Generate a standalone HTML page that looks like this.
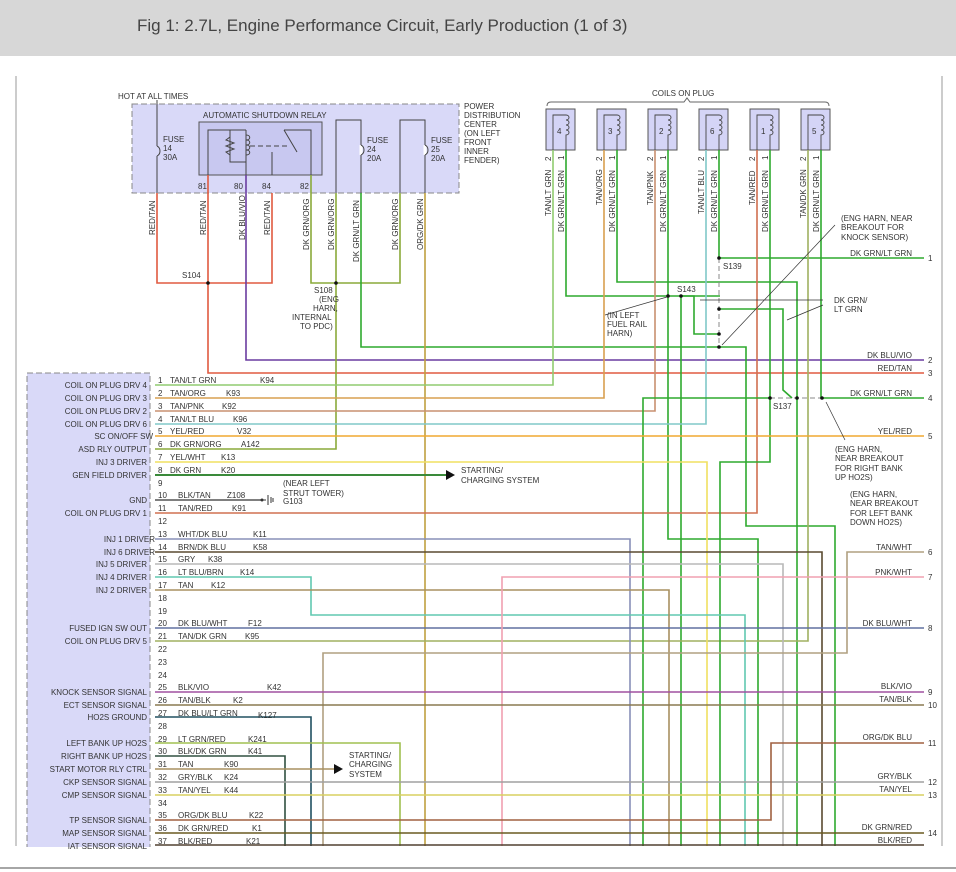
<!DOCTYPE html>
<html><head><meta charset="utf-8"><style>
html,body{margin:0;padding:0;background:#fff;width:956px;height:872px;overflow:hidden}
svg{display:block}
text{font-family:"Liberation Sans",sans-serif;fill:#333}
.s{font-size:8px}
</style></head><body>
<svg width="956" height="872" viewBox="0 0 956 872" xmlns="http://www.w3.org/2000/svg">
<rect x="0" y="0" width="956" height="56" fill="#d7d7d7"/>
<text x="137" y="31" style="font-size:17px;fill:#444">Fig 1: 2.7L, Engine Performance Circuit, Early Production (1 of 3)</text>
<line x1="16" y1="76" x2="16" y2="846" stroke="#999" stroke-width="1"/>
<line x1="942" y1="76" x2="942" y2="846" stroke="#999" stroke-width="1"/>
<line x1="0" y1="868" x2="956" y2="868" stroke="#999" stroke-width="1.5"/>

<!-- PDC -->
<rect x="132" y="104" width="327" height="89" fill="#d9d9f8" stroke="#888" stroke-dasharray="6,3"/>
<rect x="199" y="122" width="123" height="53" fill="#c8c8f0" stroke="#555"/>
<text x="118" y="99" class="s">HOT AT ALL TIMES</text>
<text x="203" y="118" class="s">AUTOMATIC SHUTDOWN RELAY</text>
<text x="464" y="109" class="s">POWER</text><text x="464" y="118" class="s">DISTRIBUTION</text><text x="464" y="127" class="s">CENTER</text><text x="464" y="136" class="s">(ON LEFT</text><text x="464" y="145" class="s">FRONT</text><text x="464" y="154" class="s">INNER</text><text x="464" y="163" class="s">FENDER)</text>
<text x="163" y="142" class="s">FUSE</text><text x="163" y="151" class="s">14</text><text x="163" y="160" class="s">30A</text>
<text x="367" y="143" class="s">FUSE</text><text x="367" y="152" class="s">24</text><text x="367" y="161" class="s">20A</text>
<text x="431" y="143" class="s">FUSE</text><text x="431" y="152" class="s">25</text><text x="431" y="161" class="s">20A</text>
<text x="198" y="189" class="s">81</text><text x="234" y="189" class="s">80</text><text x="262" y="189" class="s">84</text><text x="300" y="189" class="s">82</text>
<g fill="none" stroke="#444" stroke-width="1">
<path d="M157 100V146M157 156V193"/><path d="M157 146c4 2 4 8 0 10"/>
<path d="M208 175V130H230M230 130V162H246M246 130V175M230 130H246"/>
<path d="M230 137l-4 3 8 3-8 3 8 3-8 3 4 3"/>
<path d="M246 135c5 0 5 5 0 5c5 0 5 5 0 5c5 0 5 5 0 5c5 0 5 5 0 5"/>
<path d="M250 146H290" stroke-dasharray="5,3"/>
<path d="M272 175V152M311 175V130H284M284 130L297 152"/>
<path d="M336 193V120H361V193M400 193V120H425V193"/>
</g>
<g fill="none" stroke="#fff" stroke-width="3"><path d="M361 145V155M425 145V155"/></g>
<g fill="none" stroke="#444" stroke-width="1"><path d="M361 145c4 2 4 8 0 10M425 145c4 2 4 8 0 10"/></g>

<!-- coils -->
<text x="652" y="96" class="s">COILS ON PLUG</text>
<path d="M547 106q0-4 4-4H684l3-4 3 4H825q4 0 4 4" fill="none" stroke="#666"/>
<g font-size="8">
<g id="c"></g>
</g>
<g stroke="#555" fill="#d4d4f6">
<rect x="546" y="109" width="29" height="41"/><rect x="597" y="109" width="29" height="41"/><rect x="648" y="109" width="29" height="41"/><rect x="699" y="109" width="29" height="41"/><rect x="750" y="109" width="29" height="41"/><rect x="801" y="109" width="29" height="41"/>
</g>
<g fill="none" stroke="#444" stroke-width="0.9">
<path d="M553 150V115H566M566 115c4 0 4 5 0 5c4 0 4 5 0 5c4 0 4 5 0 5c4 0 4 5 0 5V150"/>
<path d="M604 150V115H617M617 115c4 0 4 5 0 5c4 0 4 5 0 5c4 0 4 5 0 5c4 0 4 5 0 5V150"/>
<path d="M655 150V115H668M668 115c4 0 4 5 0 5c4 0 4 5 0 5c4 0 4 5 0 5c4 0 4 5 0 5V150"/>
<path d="M706 150V115H719M719 115c4 0 4 5 0 5c4 0 4 5 0 5c4 0 4 5 0 5c4 0 4 5 0 5V150"/>
<path d="M757 150V115H770M770 115c4 0 4 5 0 5c4 0 4 5 0 5c4 0 4 5 0 5c4 0 4 5 0 5V150"/>
<path d="M808 150V115H821M821 115c4 0 4 5 0 5c4 0 4 5 0 5c4 0 4 5 0 5c4 0 4 5 0 5V150"/>
</g>
<g class="s"><text x="557" y="134" class="s">4</text><text x="608" y="134" class="s">3</text><text x="659" y="134" class="s">2</text><text x="710" y="134" class="s">6</text><text x="761" y="134" class="s">1</text><text x="812" y="134" class="s">5</text></g>

<!-- vertical rotated labels -->
<g class="s">
<text transform="translate(155,235) rotate(-90)" class="s">RED/TAN</text>
<text transform="translate(206,235) rotate(-90)" class="s">RED/TAN</text>
<text transform="translate(245,240) rotate(-90)" class="s">DK BLU/VIO</text>
<text transform="translate(270,235) rotate(-90)" class="s">RED/TAN</text>
<text transform="translate(309,250) rotate(-90)" class="s">DK GRN/ORG</text>
<text transform="translate(334,250) rotate(-90)" class="s">DK GRN/ORG</text>
<text transform="translate(359,262) rotate(-90)" class="s">DK GRN/LT GRN</text>
<text transform="translate(398,250) rotate(-90)" class="s">DK GRN/ORG</text>
<text transform="translate(423,250) rotate(-90)" class="s">ORG/DK GRN</text>
</g>
<g class="s">
<text transform="translate(551,216) rotate(-90)" class="s">TAN/LT GRN</text><text transform="translate(564,232) rotate(-90)" class="s">DK GRN/LT GRN</text>
<text transform="translate(602,205) rotate(-90)" class="s">TAN/ORG</text><text transform="translate(615,232) rotate(-90)" class="s">DK GRN/LT GRN</text>
<text transform="translate(653,205) rotate(-90)" class="s">TAN/PNK</text><text transform="translate(666,232) rotate(-90)" class="s">DK GRN/LT GRN</text>
<text transform="translate(704,214) rotate(-90)" class="s">TAN/LT BLU</text><text transform="translate(717,232) rotate(-90)" class="s">DK GRN/LT GRN</text>
<text transform="translate(755,205) rotate(-90)" class="s">TAN/RED</text><text transform="translate(768,232) rotate(-90)" class="s">DK GRN/LT GRN</text>
<text transform="translate(806,218) rotate(-90)" class="s">TAN/DK GRN</text><text transform="translate(819,232) rotate(-90)" class="s">DK GRN/LT GRN</text>
<text transform="translate(551,161) rotate(-90)" class="s">2</text><text transform="translate(564,160) rotate(-90)" class="s">1</text>
<text transform="translate(602,161) rotate(-90)" class="s">2</text><text transform="translate(615,160) rotate(-90)" class="s">1</text>
<text transform="translate(653,161) rotate(-90)" class="s">2</text><text transform="translate(666,160) rotate(-90)" class="s">1</text>
<text transform="translate(704,161) rotate(-90)" class="s">2</text><text transform="translate(717,160) rotate(-90)" class="s">1</text>
<text transform="translate(755,161) rotate(-90)" class="s">2</text><text transform="translate(768,160) rotate(-90)" class="s">1</text>
<text transform="translate(806,161) rotate(-90)" class="s">2</text><text transform="translate(819,160) rotate(-90)" class="s">1</text>
</g>

<!-- ECM connector -->
<rect x="27" y="373" width="123" height="480" fill="#d9d9f8" stroke="#888" stroke-dasharray="6,3"/>

<!-- wires -->
<g fill="none" stroke-width="1.6">
<path d="M157 193V283H272V193" stroke="#e05a40"/>
<path d="M208 175V373H924" stroke="#e05a40"/>
<path d="M246 175V360H924" stroke="#6a3ca0"/>
<path d="M311 175V283H400V193" stroke="#8aaa3a"/>
<path d="M336 193V449H155" stroke="#8aaa3a"/>
<path d="M361 193V347H720" stroke="#2eaa2e"/>
<path d="M425 193V846" stroke="#c0a040"/>
<!-- coil wires -->
<path d="M553 150V385H155" stroke="#90cc70"/>
<path d="M566 150V296H720" stroke="#2eaa2e"/>
<path d="M604 150V398H155" stroke="#d8a050"/>
<path d="M617 150V282H797V846" stroke="#2eaa2e"/>
<path d="M655 150V411H155" stroke="#c89070"/>
<path d="M668 150V539H758V846" stroke="#2eaa2e"/>
<path d="M681 296V846" stroke="#2eaa2e"/>
<path d="M681 296H694V334H719" stroke="#2eaa2e"/>
<path d="M706 150V424H155" stroke="#80c8c8"/>
<path d="M719 150V258H924" stroke="#2eaa2e"/>
<path d="M719 258V347" stroke="#888" stroke-dasharray="5,3" stroke-width="1"/>
<path d="M719 309H783V390L792 398" stroke="#2eaa2e"/>
<path d="M719 347H746V526H835V846" stroke="#2eaa2e"/>
<path d="M757 150V513H155" stroke="#d07050"/>
<path d="M770 150V398" stroke="#2eaa2e"/>
<path d="M808 150V641H155" stroke="#a0b060"/>
<path d="M821 150V398H924" stroke="#2eaa2e"/>
<path d="M770 398H643V846" stroke="#2eaa2e"/>
<path d="M770 398V462H720V846" stroke="#2eaa2e"/>
<path d="M770 398H822" stroke="#888" stroke-dasharray="5,3" stroke-width="1"/>
<!-- ECM rows -->
<path d="M155 436H924" stroke="#f0a830"/>
<path d="M155 462H707V846" stroke="#f0e060"/>
<path d="M155 475H446" stroke="#3a8a3a" stroke-width="2"/>
<path d="M155 500H262" stroke="#555"/>
<path d="M155 539H630V846" stroke="#8890b8"/>
<path d="M155 552H822V846" stroke="#5a4a30"/>
<path d="M155 564H783V846" stroke="#b8b8b8"/>
<path d="M155 577H311V615H745V846" stroke="#60c8b0"/>
<path d="M155 590H669V846" stroke="#a89060"/>
<path d="M155 628H924" stroke="#6070a0"/>
<path d="M924 552H847V653H323V846" stroke="#b0a080"/>
<path d="M924 577H502V846" stroke="#f0a0b0"/>
<path d="M155 692H924" stroke="#a050a0"/>
<path d="M155 705H924" stroke="#8a7a50"/>
<path d="M155 717H311V846" stroke="#205060"/>
<path d="M155 743H400V846" stroke="#a0c050"/>
<path d="M155 756H285V846" stroke="#305040"/>
<path d="M155 769H334" stroke="#a89060"/>
<path d="M155 782H924" stroke="#a0a0a0"/>
<path d="M155 795H924" stroke="#d8d060"/>
<path d="M155 820H771V743H924" stroke="#a06040"/>
<path d="M155 833H924" stroke="#6a5a20"/>
<path d="M155 845H924" stroke="#504030"/>
</g>
<rect x="0" y="847" width="956" height="20" fill="#fff"/>
<line x1="0" y1="868" x2="956" y2="868" stroke="#999" stroke-width="1.5"/>

<!-- arrows & ground -->
<path d="M446 470L455 475L446 480Z" fill="#111"/>
<path d="M334 764L343 769L334 774Z" fill="#111"/>
<g stroke="#333" fill="none"><path d="M262 500H266M268 495V505M271 497V503M273 498V502"/></g>
<circle cx="262" cy="500" r="1.5" fill="#333"/>

<!-- splice dots -->
<g fill="#111">
<circle cx="208" cy="283" r="1.8"/><circle cx="336" cy="283" r="1.8"/>
<circle cx="668" cy="296" r="1.8"/><circle cx="681" cy="296" r="1.8"/>
<circle cx="719" cy="258" r="1.8"/><circle cx="719" cy="309" r="1.8"/><circle cx="719" cy="334" r="1.8"/><circle cx="719" cy="347" r="1.8"/>
<circle cx="770" cy="398" r="1.8"/><circle cx="797" cy="398" r="1.8"/><circle cx="822" cy="398" r="1.8"/>
</g>
<g stroke="#333" fill="none" stroke-width="0.7">
<path d="M605 315L667 297"/><path d="M823 300L700 300"/><path d="M823 305L787 320"/><path d="M835 225L722 345"/><path d="M845 440L826 402"/>
</g>

<!-- splice labels -->
<g class="s">
<text x="182" y="278" class="s">S104</text>
<text x="314" y="293" class="s">S108</text><text x="319" y="302" class="s">(ENG</text><text x="313" y="311" class="s">HARN,</text><text x="292" y="320" class="s">INTERNAL</text><text x="300" y="329" class="s">TO PDC)</text>
<text x="677" y="292" class="s">S143</text>
<text x="607" y="318" class="s">(IN LEFT</text><text x="607" y="327" class="s">FUEL RAIL</text><text x="607" y="336" class="s">HARN)</text>
<text x="723" y="269" class="s">S139</text>
<text x="841" y="221" class="s">(ENG HARN, NEAR</text><text x="841" y="230" class="s">BREAKOUT FOR</text><text x="841" y="240" class="s">KNOCK SENSOR)</text>
<text x="834" y="303" class="s">DK GRN/</text><text x="834" y="312" class="s">LT GRN</text>
<text x="773" y="409" class="s">S137</text>
<text x="835" y="452" class="s">(ENG HARN,</text><text x="835" y="461" class="s">NEAR BREAKOUT</text><text x="835" y="471" class="s">FOR RIGHT BANK</text><text x="835" y="480" class="s">UP HO2S)</text>
<text x="850" y="497" class="s">(ENG HARN,</text><text x="850" y="506" class="s">NEAR BREAKOUT</text><text x="850" y="516" class="s">FOR LEFT BANK</text><text x="850" y="525" class="s">DOWN HO2S)</text>
<text x="461" y="473" class="s">STARTING/</text><text x="461" y="483" class="s">CHARGING SYSTEM</text>
<text x="349" y="758" class="s">STARTING/</text><text x="349" y="767" class="s">CHARGING</text><text x="349" y="777" class="s">SYSTEM</text>
<text x="283" y="486" class="s">(NEAR LEFT</text><text x="283" y="496" class="s">STRUT TOWER)</text><text x="283" y="504" class="s">G103</text>
</g>

<!-- right edge labels -->
<g class="s" text-anchor="end">
<text x="912" y="256" class="s">DK GRN/LT GRN</text><text x="912" y="358" class="s">DK BLU/VIO</text><text x="912" y="371" class="s">RED/TAN</text>
<text x="912" y="396" class="s">DK GRN/LT GRN</text><text x="912" y="434" class="s">YEL/RED</text><text x="912" y="550" class="s">TAN/WHT</text>
<text x="912" y="575" class="s">PNK/WHT</text><text x="912" y="626" class="s">DK BLU/WHT</text><text x="912" y="689" class="s">BLK/VIO</text>
<text x="912" y="702" class="s">TAN/BLK</text><text x="912" y="740" class="s">ORG/DK BLU</text><text x="912" y="779" class="s">GRY/BLK</text>
<text x="912" y="792" class="s">TAN/YEL</text><text x="912" y="830" class="s">DK GRN/RED</text><text x="912" y="843" class="s">BLK/RED</text>
</g>
<g class="s">
<text x="928" y="261" class="s">1</text><text x="928" y="363" class="s">2</text><text x="928" y="376" class="s">3</text><text x="928" y="401" class="s">4</text><text x="928" y="439" class="s">5</text><text x="928" y="555" class="s">6</text><text x="928" y="580" class="s">7</text><text x="928" y="631" class="s">8</text><text x="928" y="695" class="s">9</text><text x="928" y="708" class="s">10</text><text x="928" y="746" class="s">11</text><text x="928" y="785" class="s">12</text><text x="928" y="798" class="s">13</text><text x="928" y="836" class="s">14</text>
</g>

<!-- ECM labels -->
<g class="s" text-anchor="end">
<text x="147" y="388" class="s">COIL ON PLUG DRV 4</text><text x="147" y="401" class="s">COIL ON PLUG DRV 3</text><text x="147" y="414" class="s">COIL ON PLUG DRV 2</text><text x="147" y="427" class="s">COIL ON PLUG DRV 6</text>
<text x="153" y="439" class="s">SC ON/OFF SW</text><text x="147" y="452" class="s">ASD RLY OUTPUT</text><text x="147" y="465" class="s">INJ 3 DRIVER</text><text x="147" y="478" class="s">GEN FIELD DRIVER</text>
<text x="147" y="503" class="s">GND</text><text x="147" y="516" class="s">COIL ON PLUG DRV 1</text>
<text x="155" y="542" class="s">INJ 1 DRIVER</text><text x="155" y="555" class="s">INJ 6 DRIVER</text><text x="147" y="567" class="s">INJ 5 DRIVER</text><text x="147" y="580" class="s">INJ 4 DRIVER</text><text x="147" y="593" class="s">INJ 2 DRIVER</text>
<text x="147" y="631" class="s">FUSED IGN SW OUT</text><text x="147" y="644" class="s">COIL ON PLUG DRV 5</text>
<text x="147" y="695" class="s">KNOCK SENSOR SIGNAL</text><text x="147" y="708" class="s">ECT SENSOR SIGNAL</text><text x="147" y="720" class="s">HO2S GROUND</text>
<text x="147" y="746" class="s">LEFT BANK UP HO2S</text><text x="147" y="759" class="s">RIGHT BANK UP HO2S</text><text x="147" y="772" class="s">START MOTOR RLY CTRL</text><text x="147" y="785" class="s">CKP SENSOR SIGNAL</text><text x="147" y="798" class="s">CMP SENSOR SIGNAL</text>
<text x="147" y="823" class="s">TP SENSOR SIGNAL</text><text x="147" y="836" class="s">MAP SENSOR SIGNAL</text><text x="147" y="849" class="s">IAT SENSOR SIGNAL</text>
</g>
<g class="s">
<text x="158" y="383" class="s">1</text><text x="158" y="396" class="s">2</text><text x="158" y="409" class="s">3</text><text x="158" y="422" class="s">4</text><text x="158" y="434" class="s">5</text><text x="158" y="447" class="s">6</text><text x="158" y="460" class="s">7</text><text x="158" y="473" class="s">8</text><text x="158" y="486" class="s">9</text>
<text x="158" y="498" class="s">10</text><text x="158" y="511" class="s">11</text><text x="158" y="524" class="s">12</text><text x="158" y="537" class="s">13</text><text x="158" y="550" class="s">14</text><text x="158" y="562" class="s">15</text><text x="158" y="575" class="s">16</text><text x="158" y="588" class="s">17</text><text x="158" y="601" class="s">18</text><text x="158" y="614" class="s">19</text>
<text x="158" y="626" class="s">20</text><text x="158" y="639" class="s">21</text><text x="158" y="652" class="s">22</text><text x="158" y="665" class="s">23</text><text x="158" y="678" class="s">24</text><text x="158" y="690" class="s">25</text><text x="158" y="703" class="s">26</text><text x="158" y="716" class="s">27</text><text x="158" y="729" class="s">28</text>
<text x="158" y="742" class="s">29</text><text x="158" y="754" class="s">30</text><text x="158" y="767" class="s">31</text><text x="158" y="780" class="s">32</text><text x="158" y="793" class="s">33</text><text x="158" y="806" class="s">34</text><text x="158" y="818" class="s">35</text><text x="158" y="831" class="s">36</text><text x="158" y="844" class="s">37</text>
</g>
<g class="s">
<text x="170" y="383" class="s">TAN/LT GRN</text><text x="260" y="383" class="s">K94</text>
<text x="170" y="396" class="s">TAN/ORG</text><text x="226" y="396" class="s">K93</text>
<text x="170" y="409" class="s">TAN/PNK</text><text x="222" y="409" class="s">K92</text>
<text x="170" y="422" class="s">TAN/LT BLU</text><text x="233" y="422" class="s">K96</text>
<text x="170" y="434" class="s">YEL/RED</text><text x="237" y="434" class="s">V32</text>
<text x="170" y="447" class="s">DK GRN/ORG</text><text x="241" y="447" class="s">A142</text>
<text x="170" y="460" class="s">YEL/WHT</text><text x="221" y="460" class="s">K13</text>
<text x="170" y="473" class="s">DK GRN</text><text x="221" y="473" class="s">K20</text>
<text x="178" y="498" class="s">BLK/TAN</text><text x="227" y="498" class="s">Z108</text>
<text x="178" y="511" class="s">TAN/RED</text><text x="232" y="511" class="s">K91</text>
<text x="178" y="537" class="s">WHT/DK BLU</text><text x="253" y="537" class="s">K11</text>
<text x="178" y="550" class="s">BRN/DK BLU</text><text x="253" y="550" class="s">K58</text>
<text x="178" y="562" class="s">GRY</text><text x="208" y="562" class="s">K38</text>
<text x="178" y="575" class="s">LT BLU/BRN</text><text x="240" y="575" class="s">K14</text>
<text x="178" y="588" class="s">TAN</text><text x="211" y="588" class="s">K12</text>
<text x="178" y="626" class="s">DK BLU/WHT</text><text x="248" y="626" class="s">F12</text>
<text x="178" y="639" class="s">TAN/DK GRN</text><text x="245" y="639" class="s">K95</text>
<text x="178" y="690" class="s">BLK/VIO</text><text x="267" y="690" class="s">K42</text>
<text x="178" y="703" class="s">TAN/BLK</text><text x="233" y="703" class="s">K2</text>
<text x="178" y="716" class="s">DK BLU/LT GRN</text><text x="258" y="718" class="s">K127</text>
<text x="178" y="742" class="s">LT GRN/RED</text><text x="248" y="742" class="s">K241</text>
<text x="178" y="754" class="s">BLK/DK GRN</text><text x="248" y="754" class="s">K41</text>
<text x="178" y="767" class="s">TAN</text><text x="224" y="767" class="s">K90</text>
<text x="178" y="780" class="s">GRY/BLK</text><text x="224" y="780" class="s">K24</text>
<text x="178" y="793" class="s">TAN/YEL</text><text x="224" y="793" class="s">K44</text>
<text x="178" y="818" class="s">ORG/DK BLU</text><text x="249" y="818" class="s">K22</text>
<text x="178" y="831" class="s">DK GRN/RED</text><text x="252" y="831" class="s">K1</text>
<text x="178" y="844" class="s">BLK/RED</text><text x="246" y="844" class="s">K21</text>
</g>
</svg>
</body></html>
